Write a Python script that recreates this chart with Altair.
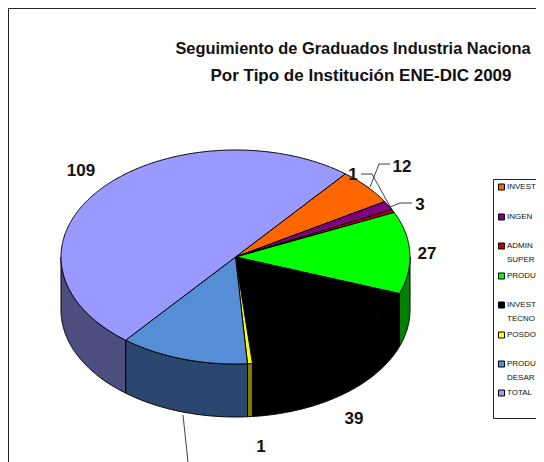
import numpy as np
import pandas as pd
import altair as alt

names = ["INVEST", "INGEN", "ADMIN\nSUPER", "PRODU", "INVEST\nTECNO", "POSDO", "PRODU\nDESAR", "TOTAL"]
values = [12, 3, 1, 27, 39, 1, 26, 109]
top_colors = ["#FF6600", "#800080", "#C00000", "#00FF00", "#000000", "#FFFF00", "#558ED5", "#9999FF"]
side_colors = ["#803300", "#400040", "#600000", "#008000", "#000000", "#808000", "#2B4770", "#4D4D80"]
title_lines = ["Seguimiento de Graduados Industria Naciona", "Por Tipo de Institución ENE-DIC 2009"]
data_labels = ["12", "3", "1", "27", "39", "1", "109"]

W, H = 528, 454
CX, CY, RX, RY, DEPTH = 235.5, 257.0, 174.5, 107.0, 53.0
START = 39.0


def rim(a, b, dy=0.0):
    ts = np.radians(np.linspace(a, b, max(2, int(abs(b - a) * 2) + 2)))
    return list(zip(CX + RX * np.sin(ts), CY - RY * np.cos(ts) + dy))


rows = []


def add_poly(key, pts, fill):
    for i, (x, y) in enumerate(pts):
        rows.append(dict(key=key, i=i, x=float(x), y=float(y), fill=fill))


total = float(sum(values))
edges = np.concatenate([[0], np.cumsum(values)]) / total * 360 + START
for k in range(len(values)):
    a, b = edges[k], edges[k + 1]
    lo, hi = max(a, 90), min(b, 270)
    if hi > lo:
        pts = rim(lo, hi) + rim(lo, hi, DEPTH)[::-1]
        add_poly(f"a{k:02d}", pts + [pts[0]], side_colors[k])
for k in range(len(values)):
    a, b = edges[k], edges[k + 1]
    pts = [(CX, CY)] + rim(a, b) + [(CX, CY)]
    add_poly(f"b{k:02d}", pts, top_colors[k])
poly = pd.DataFrame(rows)

xs = alt.Scale(domain=[8, 536], range=[0, W], nice=False, zero=False)
ys = alt.Scale(domain=[8, 462], range=[0, H], nice=False, zero=False)
X = alt.X("x:Q", scale=xs, axis=None)
Y = alt.Y("y:Q", scale=ys, axis=None)


def polyline(df, **kw):
    return alt.Chart(df).mark_line(**kw).encode(
        X, Y, detail="key:N", order="i:Q"
    )


pie = alt.Chart(poly).mark_line(stroke="black", strokeWidth=1, strokeJoin="round").encode(
    X, Y, detail="key:N", order="i:Q", fill=alt.Fill("fill:N", scale=None)
)

# chart frame and legend box
frame = pd.DataFrame(dict(key="f", i=[0, 1, 2], x=[8.5, 8.5, 536], y=[462, 8.5, 8.5]))
lbox = pd.DataFrame(dict(key="l", i=[0, 1, 2, 3], x=[536, 493.5, 493.5, 536], y=[179.5, 179.5, 418.5, 418.5]))
frame_c = polyline(frame, color="#222222", strokeWidth=1)
lbox_c = polyline(lbox, color="#222222", strokeWidth=1)

# leader lines
leaders = pd.DataFrame(
    [("a", 0, 370, 187), ("a", 1, 379, 164), ("a", 2, 390, 164),
     ("b", 0, 361, 174), ("b", 1, 372, 174), ("b", 2, 392, 210),
     ("c", 0, 390, 207), ("c", 1, 400, 203), ("c", 2, 412, 203),
     ("d", 0, 183, 415), ("d", 1, 188, 462)],
    columns=["key", "i", "x", "y"],
)
leaders_c = polyline(leaders, color="#111111", strokeWidth=0.8)

# titles
title_df = pd.DataFrame(dict(t=title_lines, x=[353, 361], y=[49, 76], s=[16.4, 17]))
title_c = alt.Chart(title_df).mark_text(
    font="Liberation Sans", fontWeight="bold", color="#111111", align="center", baseline="middle"
).encode(X, Y, text="t:N", size=alt.Size("s:Q", scale=None, legend=None))

# data labels
lab_df = pd.DataFrame(dict(
    t=data_labels,
    x=[402, 420, 353, 427, 354, 261, 81],
    y=[167, 205, 175, 254, 419, 447, 171],
))
lab_c = alt.Chart(lab_df).mark_text(
    font="Liberation Sans", fontWeight="bold", fontSize=17, color="#111111", align="center", baseline="middle"
).encode(X, Y, text="t:N")

# legend
leg_y = [187, 217, 246, 276, 305, 335, 364, 393]
leg_df = pd.DataFrame(dict(x=501.5, y=leg_y, c=top_colors))
leg_sw = alt.Chart(leg_df).mark_square(size=36, stroke="black", strokeWidth=1, opacity=1).encode(
    X, Y, fill=alt.Fill("c:N", scale=None)
)
txt_rows = []
for name, y0 in zip(names, leg_y):
    for j, part in enumerate(name.split("\n")):
        txt_rows.append(dict(t=part, x=507, y=y0 + j * 13.5))
leg_txt = alt.Chart(pd.DataFrame(txt_rows)).mark_text(
    font="Liberation Sans", fontSize=8, color="#111111", align="left", baseline="middle"
).encode(X, Y, text="t:N")

chart = alt.layer(frame_c, pie, leaders_c, title_c, lab_c, lbox_c, leg_sw, leg_txt).properties(
    width=W, height=H, padding=0, autosize=alt.AutoSizeParams(type="none"), background="white"
).configure_view(stroke=None)

chart.save("out.html", embed_options={"renderer": "svg", "actions": False})
